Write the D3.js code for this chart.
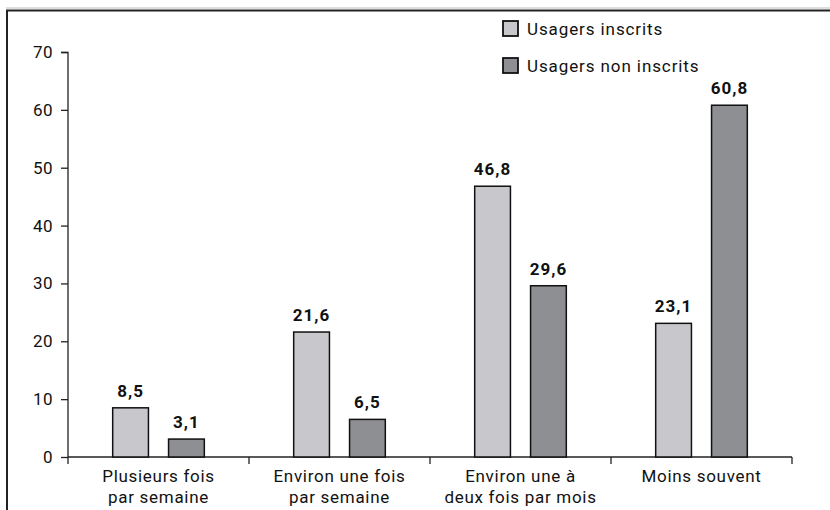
<!DOCTYPE html>
<html><head><meta charset="utf-8">
<script src="https://cdn.jsdelivr.net/npm/d3@7"></script>
<style>body{margin:0;background:#fff}svg{display:block}text{font-family:Roboto,"DejaVu Sans",sans-serif;fill:#111}</style>
</head><body><svg id="c" width="830" height="510"></svg>
<script>
const categories = [["Plusieurs fois","par semaine"],["Environ une fois","par semaine"],["Environ une à","deux fois par mois"],["Moins souvent"]];
const seriesNames = ["Usagers inscrits","Usagers non inscrits"];
const inscrits = [8.5, 21.6, 46.8, 23.1];
const nonInscrits = [3.1, 6.5, 29.6, 60.8];
const yTicks = [0,10,20,30,40,50,60,70];
const colors = ["#c8c8cc","#8e8f93"];

const svg = d3.select("#c");
// frame
svg.append("line").attr("x1",6).attr("x2",830).attr("y1",8).attr("y2",8).attr("stroke","#bbb").attr("stroke-width",1);
svg.append("path").attr("d","M7,510V10.5H830").attr("fill","none").attr("stroke","#222").attr("stroke-width",2);

const x0 = 68, x1 = 792, yBase = 457, yTop = 52;
const x = d3.scaleBand().domain(d3.range(categories.length)).range([x0,x1]).padding(0);
const y = d3.scaleLinear().domain([0,70]).range([yBase,yTop]);
const fmt = v => d3.format(".1f")(v).replace(".",",");

// y axis
const ya = svg.append("g").attr("transform",`translate(${x0},0)`)
  .call(d3.axisLeft(y).tickValues(yTicks).tickSize(7).tickPadding(8));
ya.select(".domain").attr("stroke","#222").attr("stroke-width",1.3).attr("d",`M-7,${yTop}.5H0V${yBase}`);
ya.selectAll(".tick line").attr("stroke","#222").attr("stroke-width",1.3);
ya.selectAll(".tick text").attr("font-size",17).attr("font-family","Roboto,sans-serif").attr("fill","#111").attr("letter-spacing",0.5);

// x axis
const boundaries = d3.range(categories.length+1).map(i => x0 + i*x.bandwidth());
svg.append("line").attr("x1",x0).attr("x2",x1).attr("y1",yBase).attr("y2",yBase).attr("stroke","#222").attr("stroke-width",1.3);
svg.selectAll(".xt").data(boundaries).enter().append("line")
  .attr("x1",d=>d).attr("x2",d=>d).attr("y1",yBase).attr("y2",yBase+7).attr("stroke","#222").attr("stroke-width",1.3);

const x2 = d3.scaleBand().domain([0,1]).range([0,x.bandwidth()]).paddingInner(0.36).paddingOuter(0.8);
const data = [];
categories.forEach((c,i)=>{ data.push({i,s:0,v:inscrits[i]}); data.push({i,s:1,v:nonInscrits[i]}); });

svg.selectAll(".bar").data(data).enter().append("rect")
  .attr("x",d=>x(d.i)+x2(d.s)).attr("width",x2.bandwidth())
  .attr("y",d=>y(d.v)).attr("height",d=>yBase-y(d.v))
  .attr("fill",d=>colors[d.s]).attr("stroke","#111").attr("stroke-width",1.5);

svg.selectAll(".val").data(data).enter().append("text")
  .attr("x",d=>x(d.i)+x2(d.s)+x2.bandwidth()/2).attr("y",d=>y(d.v)-11)
  .attr("text-anchor","middle").attr("font-size",17).attr("font-weight","bold").attr("letter-spacing",1).text(d=>fmt(d.v));

// category labels
const cl = svg.selectAll(".cat").data(categories).enter().append("text")
  .attr("text-anchor","middle").attr("font-size",17).attr("letter-spacing",0.7)
  .attr("x",(d,i)=>x(i)+x.bandwidth()/2).attr("y",482);
cl.selectAll("tspan").data(d=>d).enter().append("tspan")
  .attr("x",function(){return this.parentNode.getAttribute("x");})
  .attr("dy",(d,j)=>j===0?0:21).text(d=>d);

// legend
const lg = svg.selectAll(".lg").data(seriesNames).enter().append("g")
  .attr("transform",(d,i)=>`translate(503,${21+i*37})`);
lg.append("rect").attr("width",15).attr("height",15).attr("fill",(d,i)=>colors[i]).attr("stroke","#111").attr("stroke-width",1.8);
lg.append("text").attr("x",24).attr("y",14).attr("font-size",17).attr("letter-spacing",0.9).text(d=>d);
</script></body></html>
